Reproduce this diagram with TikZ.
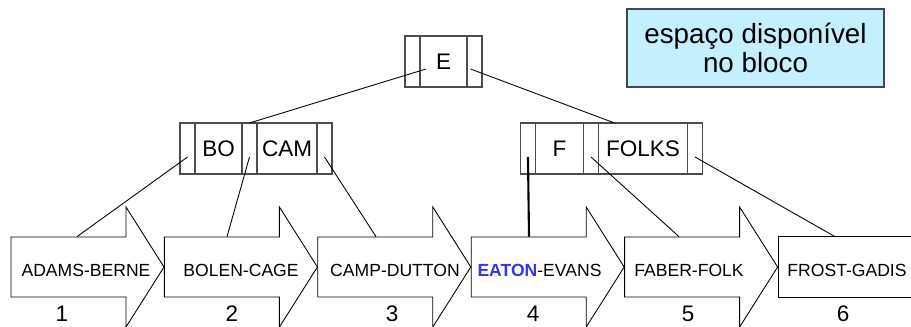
\documentclass[tikz,border=0pt]{standalone}
\usepackage{xcolor}
\usepackage{fontspec}
\setmainfont{Liberation Sans}
\usepackage{tikz}
\usetikzlibrary{positioning}

\definecolor{keyblue}{RGB}{51,51,240}
\definecolor{notefill}{RGB}{196,240,253}
\definecolor{notedraw}{RGB}{60,75,80}

\begin{document}
\begin{tikzpicture}[
        ptrcell/.style={rectangle, draw=black!70, line width=0.6pt, minimum width=0.3cm, minimum height=1.02cm, inner sep=0pt, outer sep=0pt},
        keycell/.style={ptrcell, minimum width=#1, font=\fontsize{12.8}{15}\selectfont},
        leafbox/.style={minimum height=1.2cm, inner sep=0pt, text height=10.6pt, text depth=0pt, font=\fontsize{10}{12}\selectfont},
        blocknum/.style={inner sep=0pt, font=\fontsize{12.8}{15}\selectfont},
        link/.style={line width=0.5pt},
        blockline/.style={line width=0.5pt}
    ]
        \useasboundingbox (0,0) rectangle (18.22,6.52);

        % root
        \node[ptrcell] (eL) at (8.25,5.29) {};
        \node[keycell=0.94cm, right=0pt of eL] (eK) {E};
        \node[ptrcell, right=0pt of eK] (eR) {};

        % index blocks
        \node[ptrcell] (bL) at (3.75,3.55) {};
        \node[keycell=0.94cm, right=0pt of bL] (bK1) {BO};
        \node[ptrcell, right=0pt of bK1] (bM) {};
        \node[keycell=1.2cm, right=0pt of bM] (bK2) {CAM};
        \node[ptrcell, right=0pt of bK2] (bR) {};

        \node[ptrcell] (fL) at (10.56,3.55) {};
        \node[keycell=0.96cm, right=0pt of fL] (fK1) {F};
        \node[ptrcell, right=0pt of fK1] (fM) {};
        \node[keycell=1.78cm, right=0pt of fM] (fK2) {FOLKS};
        \node[ptrcell, right=0pt of fK2] (fR) {};

        % sequence set blocks
        \foreach \x in {0.22,3.288,6.356,9.424,12.492}
            \draw[blockline] (\x,0.58) -- ++(0,1.2) -- ++(2.3,0) -- ++(0,0.6)
                -- ++(0.76,-1.2) -- ++(-0.76,-1.2) -- ++(0,0.6) -- cycle;
        \draw[blockline] (15.57,0.57) rectangle (18.4,1.79);

        \node[leafbox] (leaf1) at (1.72,1.18) {ADAMS-BERNE};
        \node[leafbox] (leaf2) at (4.82,1.18) {BOLEN-CAGE};
        \node[leafbox] (leaf3) at (7.9,1.18) {CAMP-DUTTON};
        \node[leafbox] (leaf4) at (10.79,1.18) {\textbf{\textcolor{keyblue}{EATON}}-EVANS};
        \node[leafbox] (leaf5) at (13.78,1.18) {FABER-FOLK};
        \node[leafbox] (leaf6) at (16.94,1.18) {FROST-GADIS};

        \node[blocknum] (n1) at (1.24,0.24) {1};
        \node[blocknum] (n2) at (4.64,0.24) {2};
        \node[blocknum] (n3) at (7.84,0.24) {3};
        \node[blocknum] (n4) at (10.66,0.24) {4};
        \node[blocknum] (n5) at (13.76,0.24) {5};
        \node[blocknum] (n6) at (16.86,0.24) {6};

        % note
        \node[rectangle, draw=notedraw, line width=0.6pt, fill=notefill, minimum width=5.14cm, minimum height=1.56cm, align=center, font=\fontsize{15.8}{16.8}\selectfont] (note) at (15.11,5.56) {espaço disponível\\no bloco};

        % pointers
        \draw[link] ([xshift=0.27cm, yshift=-0.15cm]eL.center) -- (bM.north);
        \draw[link] ([xshift=-0.08cm, yshift=-0.15cm]eR.center) -- ([xshift=0.32cm]fK2.north west);
        \foreach \from/\to/\dx in {bL/leaf1/-0.18, bM/leaf2/-0.28, bR/leaf3/-0.38, fM/leaf5/-0.2, fR/leaf6/-0.24}
            \draw[link] ([yshift=-0.17cm]\from.center) -- ([xshift=\dx cm]\to.north);
        \draw[line width=1.2pt] ([yshift=-0.17cm]fL.center) -- ([xshift=-0.21cm]leaf4.north);
    \end{tikzpicture}
\end{document}
